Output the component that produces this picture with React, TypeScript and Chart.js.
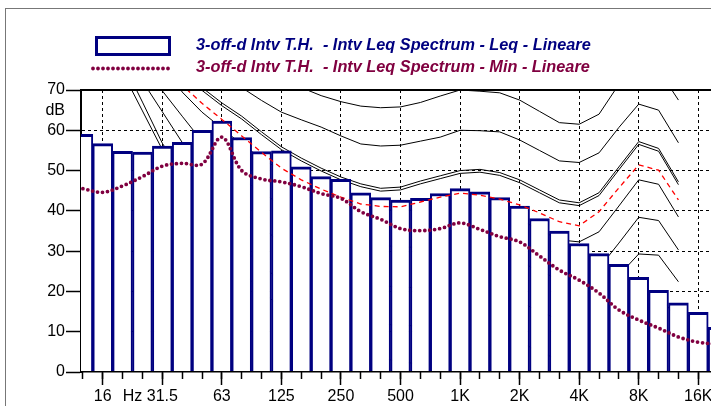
import React, { useEffect, useRef } from 'react';
import { Chart, registerables } from 'chart.js';

Chart.register(...registerables);

// ---------- data ----------
const bandLabels = ['12.5', '16', '20', '25', '31.5', '40', '50', '63', '80', '100', '125', '160', '200', '250', '315', '400', '500', '630', '800', '1K', '1.25K', '1.6K', '2K', '2.5K', '3.15K', '4K', '5K', '6.3K', '8K', '10K', '12.5K', '16K', '20K'];

const leqValues = [59.0, 56.7, 54.8, 54.6, 56.1, 57.0, 60.0, 62.3, 58.2, 54.7, 54.9, 50.9, 48.5, 47.8, 44.5, 43.3, 42.7, 43.1, 44.3, 45.5, 44.7, 43.3, 41.2, 38.1, 35.0, 31.9, 29.4, 26.7, 23.5, 20.3, 17.2, 14.8, 11.1];

const minValues = [45.5, 44.6, 46.2, 48.5, 51.1, 51.8, 51.6, 58.3, 50.0, 47.9, 47.2, 46.0, 44.3, 43.1, 39.8, 37.9, 35.6, 35.1, 35.6, 37.0, 35.4, 33.6, 32.3, 28.8, 25.3, 22.8, 19.6, 15.4, 12.9, 10.9, 8.7, 7.4, 6.9];

// equal-loudness contours, 20 Hz .. 12.5 kHz
const contourStart = '20';
const contour0 = [74.4, 64.8, 55.2, 46, 38, 31, 25, 20, 16, 12.5, 9.5, 7, 5, 3.5, 2.5, 2, 2, 2, 2, 1, 0.5, 0, 0, 0, 0, 3, 11, 12, 7];
const contour10 = [77, 67, 56.8, 49, 42, 36, 31, 26.5, 22.5, 19.5, 17, 15, 13, 12, 11.5, 11.5, 11, 10, 10.5, 9.5, 7.5, 5, 3, 2.5, 4.5, 11, 19.5, 19, 13];
const contour20 = [82, 72.2, 64.6, 57, 50.5, 45, 40, 36, 32, 29, 26.5, 24.5, 22.5, 21.5, 21, 21, 20.8, 20, 20.5, 19.5, 17.5, 15, 13, 12.5, 15, 24, 29.3, 29, 22.4];
const contour30 = [85, 76, 69.8, 63.5, 57.3, 52.5, 48, 44.5, 41.5, 38.5, 36, 34, 32.5, 31.5, 31, 31, 30.8, 30, 30.5, 29.5, 27.5, 25, 23, 22.5, 25.8, 32, 38.4, 37.6, 30.3];
const contour40 = [90, 84, 78, 69.5, 64.5, 60.5, 56.5, 53, 50, 47.5, 45, 43, 41.5, 40.5, 40, 40.3, 40.5, 40, 40.3, 39.5, 37.8, 35.3, 32.8, 32.3, 34.8, 41.2, 47.7, 46.6, 38.5];
const contour50 = [95, 90, 84, 77, 70.6, 66.8, 63.5, 59.6, 55.9, 53.1, 50.6, 48.4, 46.7, 45.6, 45.9, 47.4, 48.7, 50, 50.3, 49.5, 47.7, 45.2, 42.7, 42, 44.5, 50.9, 57.2, 55.5, 47.2];
const contour50b = [94.3, 89.3, 83.3, 76.3, 69.9, 66.1, 62.8, 58.9, 55.2, 52.4, 49.9, 47.7, 46.0, 44.9, 45.2, 46.7, 48.0, 49.3, 49.6, 48.8, 47.0, 44.5, 42.0, 41.3, 43.8, 50.2, 56.5, 54.8, 46.5];
const contour60 = [100, 95, 90, 85, 80, 75, 70.6, 67.4, 64.5, 62.6, 60.8, 58.6, 56.6, 56.1, 56.3, 57.3, 58.3, 60, 59.9, 59.6, 57.6, 55, 52.4, 52, 54.4, 60.7, 66.5, 65, 56.9];
const contour70 = [110, 105, 100, 95, 90, 86, 82, 78.5, 75, 70.6, 68.6, 67.1, 66, 65.6, 65.8, 66.9, 68.5, 70, 69.7, 69.3, 67.5, 64.7, 61.9, 61.5, 64, 71.4, 76.5, 75, 67.5];
const redCurve = [86, 81, 76, 71.2, 66.7, 62.7, 58.6, 54.5, 50.6, 47.7, 45.4, 43.4, 41.7, 41.1, 41.0, 42.2, 43.4, 44.4, 43.9, 42.9, 41.5, 39.5, 37.3, 36.3, 39.8, 45.7, 51.4, 50.1, 42.7];

const octaveLabels = ['16', '31.5', '63', '125', '250', '500', '1K', '2K', '4K', '8K', '16K'];
const unitXLabel = 'Hz';
const unitXBetween = ['20', '25'];
const yTicks = [0, 10, 20, 30, 40, 50, 60, 70];
const unitYLabel = 'dB';
const unitYValue = 65;

const leqLabel = '3-off-d Intv T.H.  - Intv Leq Spectrum - Leq - Lineare';
const minLabel = '3-off-d Intv T.H.  - Intv Leq Spectrum - Min - Lineare';

// ---------- styles ----------
const NAVY = '#000080';
const MAGENTA = '#800040';
const FONT = "'Liberation Sans', Arial, Helvetica, sans-serif";
const X_MIN = -0.096;
const X_MAX = 35.62;
const CLEAR = 'rgba(0,0,0,0)';

const toPoints = (values: number[], startLabel: string) => {
  const start = bandLabels.indexOf(startLabel);
  return values.map((v, k) => ({ x: start + k, y: v }));
};

const hzPos = (bandLabels.indexOf(unitXBetween[0]) + bandLabels.indexOf(unitXBetween[1])) / 2;
const octavePos = octaveLabels.map((l) => bandLabels.indexOf(l));
const xMajorTicks = [...octavePos, hzPos].sort((a, b) => a - b);

const xLabelFor = (v: number) => {
  if (Math.abs(v - hzPos) < 1e-6) return unitXLabel;
  const k = octavePos.indexOf(Math.round(v));
  return k >= 0 ? octaveLabels[k] : '';
};

const legendPlugin = {
  id: 'spectrumLegend',
  afterDraw(chart: any) {
    const ctx = chart.ctx as CanvasRenderingContext2D;
    const ds = chart.data.datasets;
    ctx.save();
    // bars item
    ctx.fillStyle = '#ffffff';
    ctx.strokeStyle = NAVY;
    ctx.lineWidth = 3;
    ctx.fillRect(96.5, 37.5, 73, 17);
    ctx.strokeRect(96.5, 37.5, 73, 17);
    ctx.font = `italic bold 16.3px ${FONT}`;
    ctx.textAlign = 'left';
    ctx.textBaseline = 'alphabetic';
    ctx.fillStyle = NAVY;
    ctx.fillText(ds[0].label, 196, 49.5);
    // min line item
    ctx.strokeStyle = MAGENTA;
    ctx.lineWidth = 3.8;
    ctx.lineCap = 'round';
    ctx.setLineDash([0, 5]);
    ctx.beginPath();
    ctx.moveTo(93, 68.5);
    ctx.lineTo(172, 68.5);
    ctx.stroke();
    ctx.setLineDash([]);
    ctx.fillStyle = MAGENTA;
    ctx.fillText(ds[1].label, 196, 72);
    ctx.restore();
  },
};

const contourLine = (data: number[]) => ({
  type: 'line' as const,
  label: '',
  data: toPoints(data, contourStart),
  borderColor: '#000000',
  borderWidth: 1,
  pointRadius: 0,
  tension: 0,
  fill: false,
  order: 3,
});

export default function App() {
  const ref = useRef<HTMLCanvasElement>(null);

  useEffect(() => {
    const canvas = ref.current;
    if (!canvas) return;
    Chart.defaults.font.family = FONT;
    Chart.defaults.color = '#000';

    const chart = new Chart(canvas, {
      type: 'bar',
      data: {
        datasets: [
          {
            type: 'bar',
            label: leqLabel,
            data: toPoints(leqValues, bandLabels[0]),
            backgroundColor: '#ffffff',
            borderColor: NAVY,
            borderWidth: { top: 3, left: 2, right: 2, bottom: 0 },
            borderSkipped: 'start',
            barPercentage: 1,
            categoryPercentage: 1,
            clip: 0,
            order: 2,
          } as any,
          {
            type: 'line',
            label: minLabel,
            data: toPoints(minValues, bandLabels[0]),
            borderColor: MAGENTA,
            borderWidth: 3.8,
            borderDash: [0, 5],
            borderCapStyle: 'round',
            pointRadius: 0,
            tension: 0.35,
            fill: false,
            order: 0,
          } as any,
          {
            type: 'line',
            label: '',
            data: toPoints(redCurve, contourStart),
            borderColor: '#ff0000',
            borderWidth: 1.3,
            borderDash: [5, 4],
            pointRadius: 0,
            tension: 0,
            fill: false,
            order: 1,
          } as any,
          contourLine(contour0),
          contourLine(contour10),
          contourLine(contour20),
          contourLine(contour30),
          contourLine(contour40),
          contourLine(contour50),
          contourLine(contour50b),
          contourLine(contour60),
          contourLine(contour70),
        ],
      },
      options: {
        responsive: false,
        animation: false,
        events: [],
        layout: { padding: { top: 90, left: 0, right: 0, bottom: 0 } },
        plugins: { legend: { display: false }, tooltip: { enabled: false } },
        scales: {
          x: {
            type: 'linear',
            position: 'bottom',
            offset: false,
            min: X_MIN,
            max: X_MAX,
            afterBuildTicks: (s: any) => {
              s.ticks = xMajorTicks.map((v) => ({ value: v }));
            },
            afterFit: (s: any) => {
              s.height = 58;
            },
            ticks: {
              autoSkip: false,
              maxRotation: 0,
              minRotation: 0,
              padding: 2,
              color: '#000',
              font: { family: FONT, size: 16 },
              callback: (v: any) => xLabelFor(Number(v)),
            },
            grid: {
              display: true,
              offset: false,
              drawOnChartArea: true,
              drawTicks: true,
              tickLength: 13,
              lineWidth: 1,
              tickWidth: 1.5,
              color: (c: any) => (c.tick && Math.abs(c.tick.value - hzPos) < 1e-6 ? CLEAR : '#000'),
              tickColor: (c: any) => (c.tick && Math.abs(c.tick.value - hzPos) < 1e-6 ? CLEAR : '#000'),
            },
            border: { display: true, color: '#000', width: 1.5, dash: [3, 3], z: 1 },
          },
          xMinor: {
            type: 'linear',
            axis: 'x',
            position: { y: 0 },
            offset: false,
            min: X_MIN,
            max: X_MAX,
            afterBuildTicks: (s: any) => {
              s.ticks = bandLabels.map((_, i) => ({ value: i }));
            },
            ticks: { display: false },
            grid: { display: true, offset: false, drawOnChartArea: false, drawTicks: true, tickLength: 7, tickColor: '#000', tickWidth: 1.5 },
            border: { display: false },
          },
          xTop: {
            type: 'linear',
            axis: 'x',
            position: 'top',
            offset: false,
            min: X_MIN,
            max: X_MAX,
            ticks: { display: false },
            grid: { display: false, offset: false, drawTicks: false },
            border: { display: true, color: '#000', width: 2, z: 1 },
          },
          y: {
            type: 'linear',
            position: 'left',
            min: 0,
            max: 70,
            afterBuildTicks: (s: any) => {
              s.ticks = [...yTicks, unitYValue].sort((a, b) => a - b).map((v) => ({ value: v }));
            },
            afterFit: (s: any) => {
              s.width = 81;
            },
            ticks: {
              padding: 1,
              color: '#000',
              font: { family: FONT, size: 16 },
              callback: (v: any) => (Number(v) === unitYValue ? unitYLabel : String(v)),
            },
            grid: {
              display: true,
              drawOnChartArea: true,
              drawTicks: true,
              tickLength: 15,
              lineWidth: 1,
              tickWidth: 1.5,
              color: (c: any) => {
                const v = c.tick ? c.tick.value : -1;
                return v > 0 && v < 70 && v !== unitYValue ? '#000' : CLEAR;
              },
              tickColor: (c: any) => (c.tick && c.tick.value === unitYValue ? CLEAR : '#000'),
            },
            border: { display: true, color: '#000', width: 2, dash: [3, 3] },
          },
        },
      } as any,
      plugins: [legendPlugin],
    });

    return () => chart.destroy();
  }, []);

  return (
    <div style={{ position: 'fixed', left: 0, top: 0, width: 711, height: 406, overflow: 'hidden', background: '#ffffff' }}>
      <div style={{ position: 'absolute', left: 5, top: 8, width: 900, height: 600, borderLeft: '1px solid #777', borderTop: '1px solid #777' }} />
      <canvas ref={ref} width={790} height={430} style={{ position: 'absolute', left: 0, top: 0, width: 790, height: 430 }} />
    </div>
  );
}
